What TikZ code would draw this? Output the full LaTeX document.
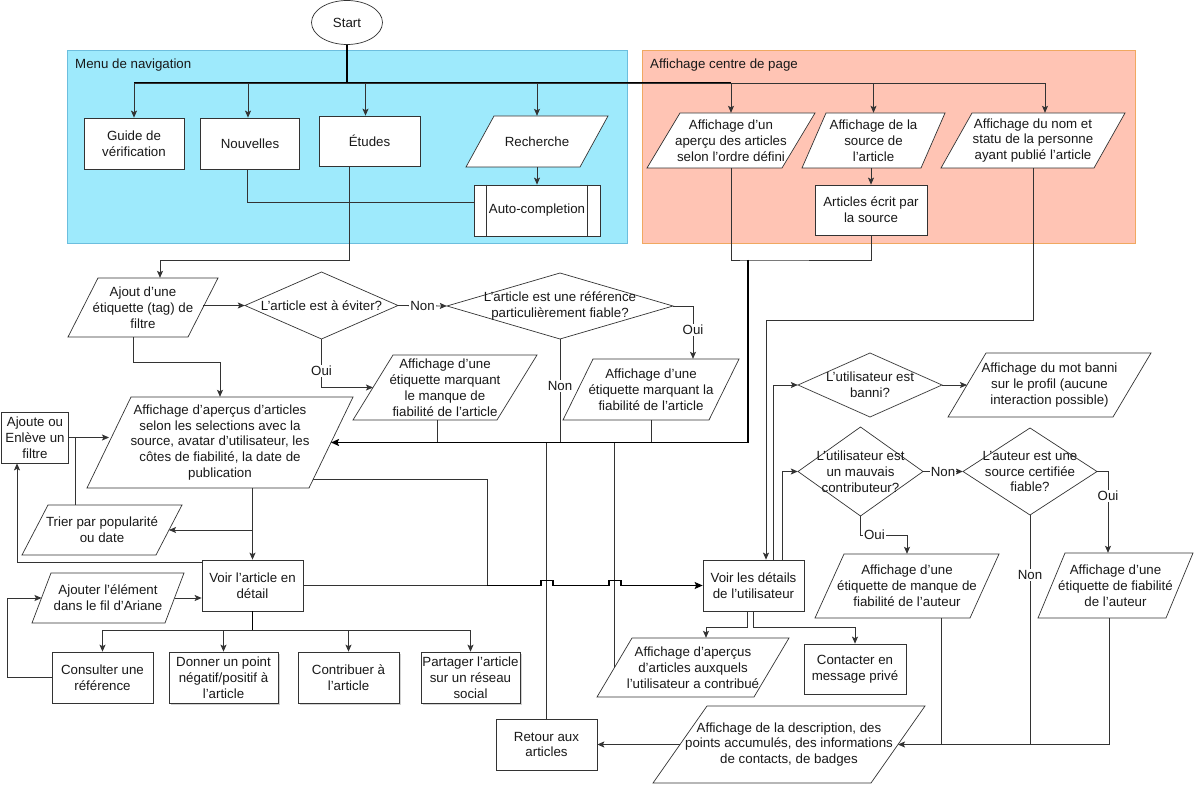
\documentclass[tikz,border=0pt]{standalone}
\usepackage{fontspec}
\setmainfont{Liberation Sans}[Ligatures=ResetAll]
\usetikzlibrary{shapes.geometric,arrows.meta,calc,shadows}
\definecolor{bluefill}{RGB}{158,234,252}
\definecolor{blueline}{RGB}{108,190,222}
\definecolor{pinkfill}{RGB}{255,196,180}
\definecolor{pinkline}{RGB}{240,168,96}
\definecolor{ink}{RGB}{25,25,25}
% parallelogram: name, cx, cy, w, h, slant, text
\newcommand{\mypara}[7]{%
  \filldraw[pshape] ({#2-#4/2},{#3+#5/2}) -- ({#2-#4/2+#6},{#3-#5/2}) -- ({#2+#4/2},{#3-#5/2}) -- ({#2+#4/2-#6},{#3+#5/2}) -- cycle;
  \node[ptext, minimum width=#4, minimum height=#5] (#1) at (#2,#3) {#7};
  \coordinate (#1-l) at ({#2-#4/2+#6/2},#3);
  \coordinate (#1-r) at ({#2+#4/2-#6/2},#3);
}
% diamond: name, cx, cy, w, h, text
\newcommand{\mydiam}[6]{%
  \filldraw[pshape] ({#2-#4/2},#3) -- (#2,{#3-#5/2}) -- ({#2+#4/2},#3) -- (#2,{#3+#5/2}) -- cycle;
  \node[ptext, minimum width=#4, minimum height=#5] (#1) at (#2,#3) {#6};
}
\begin{document}
\begin{tikzpicture}[x=1pt,y=-1pt,
  font=\fontsize{13.3}{15.9}\selectfont, text=ink,
  box/.style={draw=black!80, fill=white, inner sep=1pt, align=center, line width=0.7pt},
  ptext/.style={inner sep=0pt, align=center},
  pshape/.style={draw=black!80, fill=white, line width=0.7pt},
  conn/.style={draw=black!80, line width=0.8pt},
  thickc/.style={draw=black, line width=1.6pt},
  arrc/.style={conn, -{Stealth[length=7pt,width=6pt,inset=1.5pt]}},
  arrthick/.style={thickc, -{Stealth[length=8pt,width=7pt,inset=1.5pt]}},
  lbl/.style={fill=white, inner sep=1.2pt},
  shad/.style={drop shadow={shadow xshift=1.5pt, shadow yshift=-1.5pt, opacity=0.35}}
]
\useasboundingbox (0,0) rectangle (1194,786);
\fill[white] (0,0) rectangle (1194,786);

% containers
\node[fill=bluefill, draw=blueline, line width=0.8pt, minimum width=560, minimum height=193, anchor=north west, inner sep=0] (menu) at (67,50) {};
\node[fill=pinkfill, draw=pinkline, line width=0.8pt, minimum width=493, minimum height=193, anchor=north west, inner sep=0] (centre) at (642,50) {};
\node[anchor=west, inner sep=0] (t1) at (75,65) {Menu de navigation};
\node[anchor=west, inner sep=0] (t2) at (650,65) {Affichage centre de page};

% start
\node[ellipse, draw=black!80, fill=white, line width=0.7pt, minimum width=71, minimum height=44, inner sep=0] (start) at (347,22.5) {Start};

% top row nodes
\node[box, minimum width=100, minimum height=51] (guide) at (134,143.5) {Guide de\\vérification};
\node[box, minimum width=99, minimum height=51] (nouv) at (250,143.5) {Nouvelles};
\node[box, minimum width=101, minimum height=50] (etudes) at (369.5,141) {Études};
\mypara{recherche}{537}{141.5}{142}{51}{28}{Recherche}
\node[box, minimum width=126, minimum height=51] (auto) at (537,210.5) {Auto-completion};
\draw[conn, line width=0.7pt] ([xshift=13pt]auto.north west) -- ([xshift=13pt]auto.south west);
\draw[conn, line width=0.7pt] ([xshift=-13pt]auto.north east) -- ([xshift=-13pt]auto.south east);

\mypara{apercu}{731}{140.5}{168}{55}{33}{Affichage d'un\\aperçu des articles\\selon l'ordre défini}
\mypara{source}{873.5}{140.5}{143}{55}{24}{Affichage de la\\source de\\l'article}
\mypara{nom}{1033}{140.5}{184}{55}{31}{Affichage du nom et\\statu de la personne\\ayant publié l'article}
\node[box, minimum width=112, minimum height=50] (artsrc) at (871,210) {Articles écrit par\\la source};

% middle left
\mypara{ajout}{143}{307.5}{150}{59}{30}{Ajout d'une\\étiquette (tag) de\\filtre}
\mydiam{avoid}{321.5}{305.5}{153}{67}{L'article est à éviter?}
\mydiam{ref}{560}{306}{226}{66}{L'article est une référence\\particulièrement fiable?}
\mypara{manque}{445}{387.5}{184}{65}{40}{Affichage d'une\\étiquette marquant\\le manque de\\fiabilité de l'article}
\mypara{fiab}{651}{389.5}{176}{61}{30}{Affichage d'une\\étiquette marquant la\\fiabilité de l'article}
\mypara{mainp}{220}{442.5}{266}{91}{44}{Affichage d'aperçus d'articles\\selon les selections avec la\\source, avatar d'utilisateur, les\\côtes de fiabilité, la date de\\publication}
\coordinate (mainp-br) at (313,479);
\node[box, minimum width=67, minimum height=51] (ajoute) at (35,437.5) {Ajoute ou\\Enlève un\\filtre};
\mypara{trier}{102}{530}{160}{50}{26}{Trier par popularité\\ou date}

% lower left
\node[box, minimum width=101, minimum height=51] (voirart) at (252.5,585.5) {Voir l'article en\\détail};
\mypara{ariane}{108}{598}{152}{50}{19}{Ajouter l'élément\\dans le fil d'Ariane}
\node[box, minimum width=101, minimum height=51] (consult) at (102.5,677.5) {Consulter une\\référence};
\node[box, shad, minimum width=109, minimum height=51] (donner) at (223.5,677.5) {Donner un point\\négatif/positif à\\l'article};
\node[box, shad, minimum width=101, minimum height=51] (contrib) at (348.5,677.5) {Contribuer à\\l'article};
\node[box, shad, minimum width=99, minimum height=51, inner sep=0pt] (partager) at (470.5,677.5) {Partager l'article\\sur un réseau\\social};
\node[box, minimum width=101, minimum height=51] (retour) at (546.5,744.5) {Retour aux\\articles};

% lower right
\node[box, minimum width=101, minimum height=51] (voirusr) at (753.5,585.5) {Voir les détails\\de l'utilisateur};
\mypara{apercusr}{693}{667.5}{192}{59}{35}{Affichage d'aperçus\\d'articles auxquels\\l'utilisateur a contribué}
\node[box, minimum width=102, minimum height=50] (contact) at (855,669) {Contacter en\\message privé};
\mypara{descr}{789}{744.5}{272}{77}{54}{Affichage de la description, des\\points accumulés, des informations\\de contacts, de badges}
\mydiam{dbanni}{870}{385}{144}{64}{L'utilisateur est\\banni?}
\mypara{banni}{1049.5}{385}{203}{64}{38}{Affichage du mot banni\\sur le profil (aucune\\interaction possible)}
\mydiam{dmauv}{860.5}{471.5}{125}{89}{L'utilisateur est\\un mauvais\\contributeur?}
\mydiam{dauteur}{1030}{471.5}{134}{87}{L'auteur est une\\source certifiée\\fiable?}
\mypara{manqaut}{907}{586}{184}{64}{29}{Affichage d'une\\étiquette de manque de\\fiabilité de l'auteur}
\mypara{fiabaut}{1115.5}{585.5}{155}{65}{27}{Affichage d'une\\étiquette de fiabilité\\de l'auteur}

% ---------- connectors ----------
\coordinate (bus) at (347,83);
\draw[thickc] (start.south) -- (bus);
\draw[thickc] (guide.north |- bus) -- (apercu.north |- bus);
\draw[arrc] (bus) -| (guide.north);
\draw[arrc] (bus) -| ([xshift=-2pt]nouv.north);
\draw[arrc] (bus) -| ([xshift=-4pt]etudes.north);
\draw[arrc] (bus) -| (recherche.north);
\draw[arrc] (bus) -| (apercu.north);
\draw[arrc] (bus) -| (source.north);
\draw[arrc] (bus) -| ([xshift=12pt]nom.north);

\draw[arrc] (recherche.south) -- (auto.north);
\draw[conn] ([xshift=-3pt]nouv.south) |- ([yshift=8pt]auto.west);
\draw[arrc] (artsrc.north |- source.south) -- (artsrc.north);

\coordinate (e1) at (349.5,260);
\draw[arrc] ([xshift=-20pt]etudes.south) -- (e1) -| ([xshift=17pt]ajout.north);
\draw[arrc] (ajout-r |- avoid.west) -- (avoid.west);
\draw[arrc] (avoid.east) -- node[lbl]{Non} (ref.west);
\coordinate (r1) at (693,306);
\draw[arrc] (ref.east) -- (r1) -- node[lbl, pos=0.45]{Oui} ([xshift=42pt]fiab.north);
\draw[arrc] (avoid.south) |- node[lbl, pos=0.33]{Oui} (manque-l);

\coordinate (busR) at (748,443);
\coordinate (m1) at (748,260);
\draw[conn] (ref.south) -- node[lbl, pos=0.45]{Non} (ref.south |- busR);
\draw[conn] ([xshift=-8pt]manque.south) -- ([xshift=-8pt]manque.south |- busR);
\draw[conn] (fiab.south) -- (fiab.south |- busR);
\draw[conn] (apercu.south) |- (m1) -| (artsrc.south);
\draw[conn] (retour.north) -- (retour.north |- busR);
\draw[conn] (apercusr-l) -- (apercusr-l |- busR);
\draw[arrthick] (m1) |- (mainp-r);

\coordinate (n1) at (1033,320);
\draw[arrc] (nom.south) -- (n1) -| ([xshift=12.5pt]voirusr.north);
\draw[arrc] ([xshift=19.5pt]voirusr.north) |- (dbanni.west);
\draw[arrc] ([xshift=28.5pt]voirusr.north) |- (dmauv.west);
\draw[arrc] (dbanni.east) -- (banni-l);
\draw[arrc] (dmauv.east) -- node[lbl]{Non} (dauteur.west);
\coordinate (a1) at (1108,471.5);
\draw[arrc] (dauteur.east) -- (a1) -- node[lbl, pos=0.3]{Oui} ([xshift=-7.5pt]fiabaut.north);
\coordinate (mv1) at (860.5,535);
\draw[arrc] (dmauv.south) -- (mv1) -- node[lbl, pos=0.3]{Oui} (mv1 -| manqaut.north) -- (manqaut.north);
\draw[conn] (dauteur.south) -- node[lbl, pos=0.26]{Non} (dauteur.south |- descr-r);
\draw[conn] ([xshift=34pt]manqaut.south) -- ([xshift=34pt]manqaut.south |- descr-r);
\draw[arrc] ([xshift=-6.5pt]fiabaut.south) |- (descr-r);
\draw[arrc] (descr-l) -- (retour.east);
\draw[arrc] ([xshift=-6.5pt]voirusr.south) -- ++(0,16) -| ([xshift=13pt]apercusr.north);
\draw[arrc] (voirusr.south) -- ++(0,16) -| (contact.north);

\draw[arrc] (voirart.north |- mainp.south) -- (voirart.north);
\draw[arrc] (voirart.north |- trier-r) -- (trier-r);
\coordinate (h1) at (487,585.5);
\draw[conn] (mainp-br) -| (h1);
\draw[conn] (voirart.east) -- (h1);
\draw[arrthick, line width=1.2pt] (h1) -- (541,585.5) -- ++(0,-5) -- ++(12,0) -- ++(0,5) -- (609,585.5) -- ++(0,-5) -- ++(12,0) -- ++(0,5) -- (voirusr.west);

\draw[arrc] (ajoute.east) -- (mainp-l |- ajoute.east);
\draw[conn] ([xshift=-27pt]trier.north) -- ([xshift=-27pt]trier.north |- ajoute.east);
\draw[arrc] ([yshift=-3pt]voirart.north west) -| ([xshift=-18pt]ajoute.south);
\draw[arrc] ([xshift=-10pt]ajout.south) |- ($(mainp.north)+(0,-34)$) -- (mainp.north);
\draw[arrc] (ariane-r) -- (ariane-r -| voirart.west);
\draw[arrc] (consult.west) -- ++(-44,0) |- (ariane-l);

\coordinate (vb) at (252.5,630);
\draw[thickc] (voirart.south) -- (vb);
\draw[arrc] (vb) -| (consult.north);
\draw[arrc] (vb) -| (donner.north);
\draw[arrc] (vb) -| (contrib.north);
\draw[arrc] (vb) -| (partager.north);
\end{tikzpicture}
\end{document}
